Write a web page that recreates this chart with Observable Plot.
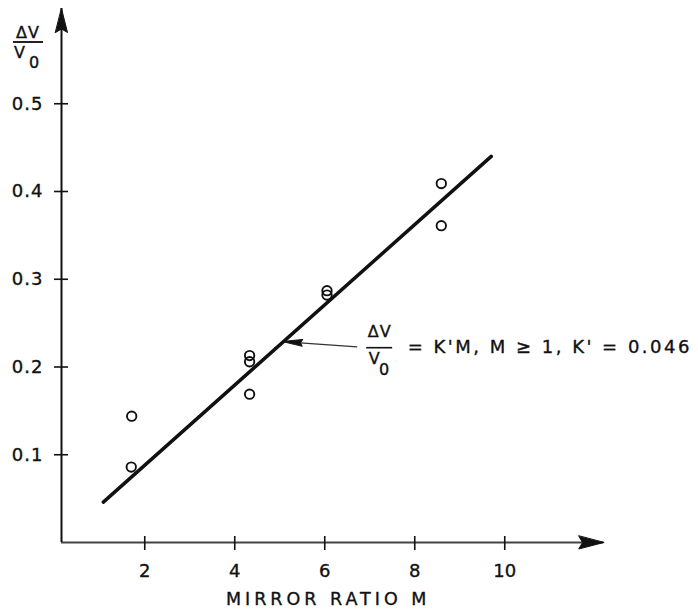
<!DOCTYPE html>
<html>
<head>
<meta charset="utf-8">
<script src="https://cdn.jsdelivr.net/npm/d3@7"></script>
<script src="https://cdn.jsdelivr.net/npm/@observablehq/plot@0.6"></script>
<style>
  body { margin: 0; background: #fff; }
  #wrap { position: relative; width: 698px; height: 613px; font-family: "DejaVu Sans", sans-serif; color: #111; }
  #wrap svg { display: block; }
  #wrap svg text { paint-order: stroke; }
  .yt { position: absolute; line-height: 16px; font-size: 16px; white-space: nowrap; -webkit-text-stroke: 0.35px #111; }
  .yt-num { left: 12px; top: 24.5px; width: 32px; text-align: center; letter-spacing: 1px; }
  .yt-bar { position: absolute; left: 13px; top: 41px; width: 30px; height: 1.6px; background: #222; }
  .yt-den { left: 14px; top: 44.5px; }
  .yt-sub { left: 29px; top: 54.5px; font-size: 16px; line-height: 16px; }
</style>
</head>
<body>
<div id="wrap"></div>
<script>
// ---- data ----
const mirrorRatio = [1.71, 1.70, 4.33, 4.33, 4.33, 6.05, 6.05, 8.59, 8.59];
const deltaV      = [0.144, 0.086, 0.169, 0.213, 0.206, 0.287, 0.282, 0.409, 0.361];
const fitM = [1.08, 9.70];
const fitV = [0.046, 0.440];
const xTicks = [2, 4, 6, 8, 10];
const xTickLabels = ["2", "4", "6", "8", "10"];
const yTicks = [0.1, 0.2, 0.3, 0.4, 0.5];
const yTickLabels = ["0.1", "0.2", "0.3", "0.4", "0.5"];
const xDomain = [0.15, 12];
const yDomain = [0, 0.6];
const xAxisEnd = 12.2;
const yAxisEnd = 0.6085;
const xTitle = "MIRROR RATIO M";
const noteNum = "ΔV", noteDen = "V", noteSub = "0";
const noteText = "= K'M, M ≥ 1, K' = 0.046";
const noteM = 7.22, noteV = 0.222;
const noteArrowM = [6.72, 5.06];
const noteArrowV = [0.223, 0.229];

const points = mirrorRatio.map((m, i) => ({m, v: deltaV[i]}));
const fit = fitM.map((m, i) => ({m, v: fitV[i]}));

const head = (notch) => ({
  draw(ctx, l, r) {
    ctx.moveTo(0, -l);
    ctx.lineTo(r, 0);
    ctx.lineTo(0, -l * notch);
    ctx.lineTo(-r, 0);
    ctx.closePath();
  }
});

const ink = "#111";
const txt = {fill: ink, stroke: ink, strokeWidth: 0.35};

const chart = Plot.plot({
  width: 698,
  height: 613,
  marginLeft: 61,
  marginRight: 103.75,
  marginTop: 15.5,
  marginBottom: 71,
  x: {domain: xDomain, axis: null},
  y: {domain: yDomain, axis: null},
  style: {fontFamily: "DejaVu Sans, sans-serif", fontSize: "17px", color: ink, background: "white"},
  marks: [
    // axes lines
    Plot.ruleY([0], {x1: xDomain[0], x2: xAxisEnd, stroke: "#444", strokeWidth: 2}),
    Plot.ruleX([xDomain[0]], {y1: 0, y2: yAxisEnd, stroke: ink, strokeWidth: 2}),
    Plot.vector([0], {x: xAxisEnd, y: 0, length: 25, r: 6.5, rotate: 90, anchor: "end", shape: head(0.15), fill: ink, stroke: ink, strokeWidth: 1}),
    Plot.vector([0], {x: xDomain[0], y: yAxisEnd, length: 24, r: 6, rotate: 0, anchor: "end", shape: head(0.15), fill: ink, stroke: ink, strokeWidth: 1}),
    // ticks crossing the axes
    Plot.ruleY(yTicks, {y: d => d, x1: xDomain[0], x2: xDomain[0], insetLeft: -7, insetRight: -7, stroke: ink, strokeWidth: 1.6}),
    Plot.ruleX(xTicks, {x: d => d, y1: 0, y2: 0, insetTop: -6, insetBottom: -8, stroke: ink, strokeWidth: 1.6}),
    // tick labels
    Plot.text(xTicks, {x: d => d, y: 0, text: (d, i) => xTickLabels[i], dy: 29, fontSize: 18, ...txt}),
    Plot.text(yTicks, {x: xDomain[0], y: d => d, text: (d, i) => yTickLabels[i], dx: -18, textAnchor: "end", fontSize: 18, ...txt}),
    // x title
    Plot.text([xTitle], {frameAnchor: "bottom", text: d => d, dy: 62, fontSize: 17.5, ...txt}),
    // fitted line and points
    Plot.line(fit, {x: "m", y: "v", stroke: ink, strokeWidth: 3.5}),
    Plot.dot(points, {x: "m", y: "v", r: 4.7, stroke: ink, strokeWidth: 1.9, fill: "none"}),
    // annotation
    Plot.link([0], {x1: noteArrowM[0], y1: noteArrowV[0], x2: noteArrowM[1], y2: noteArrowV[1], stroke: "#333", strokeWidth: 1.2}),
    Plot.vector([0], {x: noteArrowM[1], y: noteArrowV[1], length: 20, r: 3.5, rotate: -86.2, anchor: "end", shape: head(0.1), fill: ink, stroke: ink, strokeWidth: 1}),
    Plot.text([noteNum], {x: noteM, y: noteV, text: d => d, dy: -16, fontSize: 16, ...txt}),
    Plot.ruleY([noteV], {x1: noteM, x2: noteM, insetLeft: -13, insetRight: -13, stroke: ink, strokeWidth: 1.6}),
    Plot.text([noteDen], {x: noteM, y: noteV, text: d => d, dx: -5.5, dy: 11, fontSize: 16, ...txt}),
    Plot.text([noteSub], {x: noteM, y: noteV, text: d => d, dx: 4.5, dy: 22, fontSize: 16, ...txt}),
    Plot.text([noteText], {x: noteM, y: noteV, text: d => d, dx: 28, textAnchor: "start", fontSize: 18, ...txt})
  ]
});

d3.select(chart).selectAll("text").each(function() {
  const t = this.textContent;
  if (t === xTitle) d3.select(this).attr("letter-spacing", "4px");
  else if (t === noteText) d3.select(this).attr("letter-spacing", "2.5px");
  else if (t === noteNum) d3.select(this).attr("letter-spacing", "1px");
  else if (yTickLabels.includes(t)) d3.select(this).attr("letter-spacing", "1px");
});

const wrap = document.getElementById("wrap");
wrap.appendChild(chart);
wrap.insertAdjacentHTML("beforeend",
  '<div class="yt yt-num">ΔV</div><div class="yt-bar"></div><div class="yt yt-den">V</div><div class="yt yt-sub">0</div>');
</script>
</body>
</html>
